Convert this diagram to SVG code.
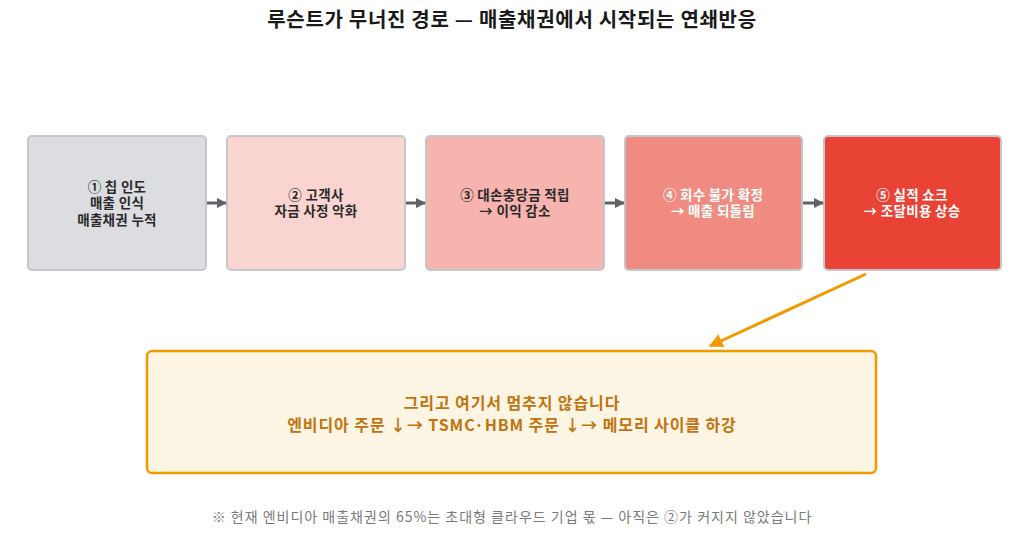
<svg xmlns="http://www.w3.org/2000/svg" width="1024" height="558" viewBox="0 0 1024 558">
<style>
text{font-family:"Noto Sans CJK KR","Noto Sans",sans-serif;text-anchor:middle}
.title{font-size:20px;font-weight:700;fill:#1a1a1a;letter-spacing:0.7px}
.box{stroke:#c3c6cb;stroke-width:2}
.lbl{font-size:13.5px;font-weight:700;letter-spacing:0.3px}
.dark{fill:#2a2a2a}
.light{fill:#ffffff}
.conn{stroke:#5f6368;stroke-width:3;fill:none}
.note{font-size:16px;font-weight:700;fill:#c07410;letter-spacing:0.9px}
.foot{font-size:14px;fill:#7a7a7a;letter-spacing:1px}
</style>
<defs>
<marker id="ah" viewBox="0 0 10 10" refX="9" refY="5" markerWidth="3.5" markerHeight="3.5" orient="auto" markerUnits="strokeWidth">
<path d="M0,0 L10,5 L0,10 z" fill="#5f6368"/>
</marker>
<marker id="ao" viewBox="0 0 10 10" refX="9" refY="5" markerWidth="14" markerHeight="14" orient="auto" markerUnits="userSpaceOnUse">
<path d="M0,0 L10,5 L0,10 z" fill="#f29a00"/>
</marker>
</defs>
<rect width="1024" height="558" fill="#ffffff"/>
<text class="title" x="512" y="27">루슨트가 무너진 경로 — 매출채권에서 시작되는 연쇄반응</text>

<g id="n1"><rect class="box" x="28" y="136" width="178" height="134" rx="4" fill="#dcdde1"/>
<text class="lbl dark" x="117" y="192">① 칩 인도</text><text class="lbl dark" x="117" y="208">매출 인식</text><text class="lbl dark" x="117" y="225">매출채권 누적</text></g>
<g id="n2"><rect class="box" x="227" y="136" width="178" height="134" rx="4" fill="#fad4d1"/>
<text class="lbl dark" x="316" y="200">② 고객사</text><text class="lbl dark" x="316" y="216">자금 사정 악화</text></g>
<g id="n3"><rect class="box" x="426" y="136" width="178" height="134" rx="4" fill="#f7b3ae"/>
<text class="lbl dark" x="515" y="200">③ 대손충당금 적립</text><text class="lbl dark" x="515" y="216">→ 이익 감소</text></g>
<g id="n4"><rect class="box" x="625" y="136" width="177" height="134" rx="4" fill="#f08b81"/>
<text class="lbl light" x="713" y="200">④ 회수 불가 확정</text><text class="lbl light" x="713" y="216">→ 매출 되돌림</text></g>
<g id="n5"><rect class="box" x="824" y="136" width="177" height="134" rx="4" fill="#e94335"/>
<text class="lbl light" x="912" y="200">⑤ 실적 쇼크</text><text class="lbl light" x="912" y="216">→ 조달비용 상승</text></g>

<g id="n6"><rect x="147" y="351" width="729" height="122" rx="5" fill="#fdf5e3" stroke="#f29a00" stroke-width="2.5"/>
<text class="note" x="512" y="409">그리고 여기서 멈추지 않습니다</text>
<text class="note" x="512" y="431">엔비디아 주문 ↓→ TSMC·HBM 주문 ↓→ 메모리 사이클 하강</text></g>

<g id="connectors">
<line class="conn" x1="207" y1="203" x2="226" y2="203" marker-end="url(#ah)"/>
<line class="conn" x1="406" y1="203" x2="425" y2="203" marker-end="url(#ah)"/>
<line class="conn" x1="605" y1="203" x2="624" y2="203" marker-end="url(#ah)"/>
<line class="conn" x1="803" y1="203" x2="823" y2="203" marker-end="url(#ah)"/>
<line x1="866" y1="274" x2="710" y2="346" stroke="#f29a00" stroke-width="3" marker-end="url(#ao)"/>
</g>

<text class="foot" x="512" y="522">※ 현재 엔비디아 매출채권의 65%는 초대형 클라우드 기업 몫 — 아직은 ②가 커지지 않았습니다</text>
</svg>
